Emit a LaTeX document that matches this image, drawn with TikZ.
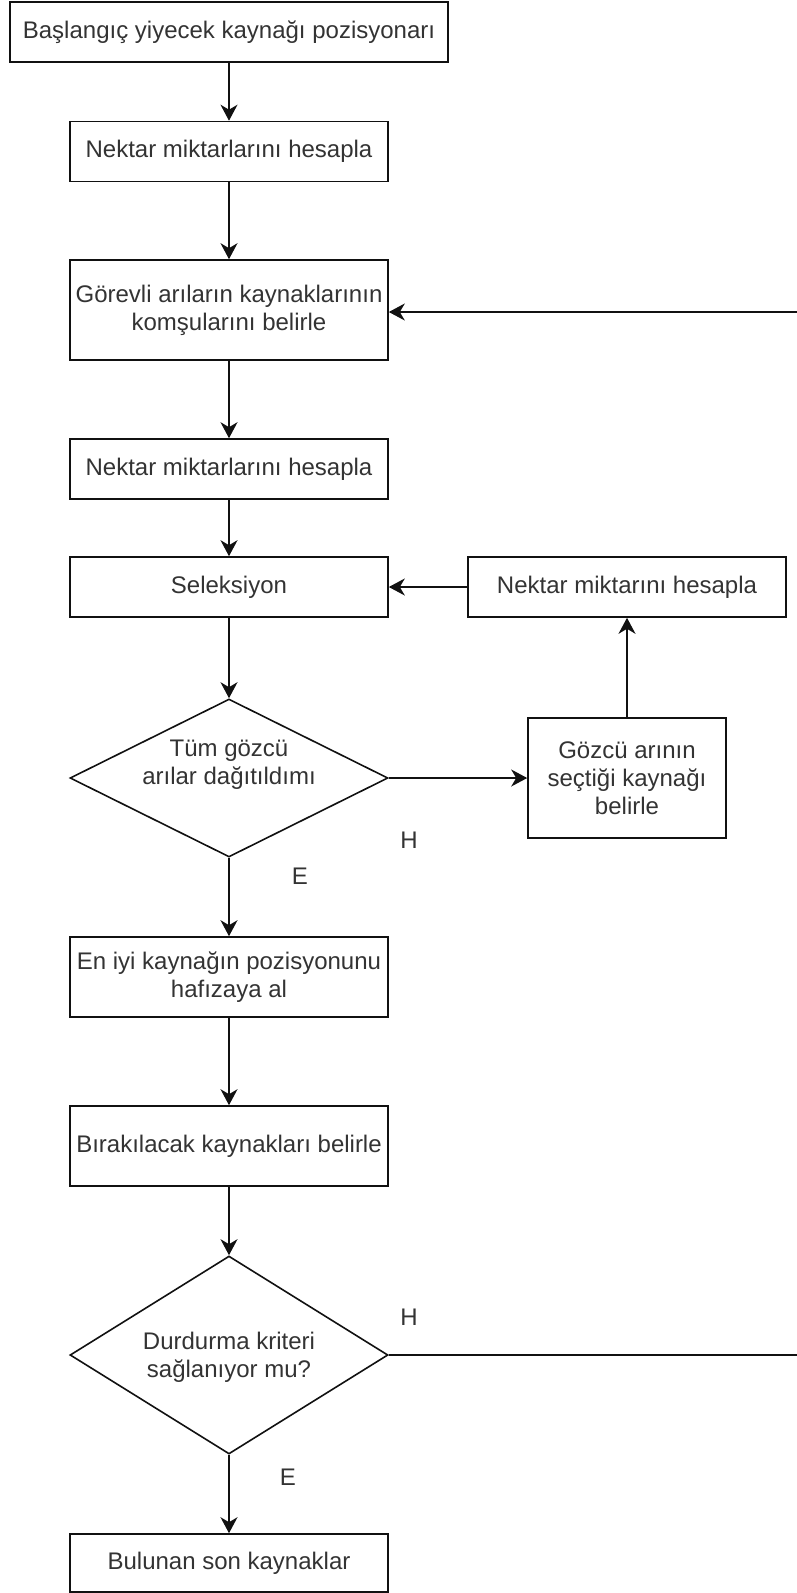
\documentclass[tikz,border=0pt]{standalone}
\usepackage{fontspec}
\setmainfont{Liberation Sans}
\usetikzlibrary{arrows.meta,shapes.geometric}
\definecolor{txt}{HTML}{333333}
\definecolor{ln}{HTML}{111111}
\tikzset{
  box/.style={draw=ln, line width=1.6pt, rectangle, inner sep=0pt, align=center,
    text=txt, font=\fontsize{24}{28}\selectfont},
  dia/.style={draw=ln, line width=1.6pt, diamond, inner sep=0pt},
  lbl/.style={inner sep=0pt, align=center, text=txt, font=\fontsize{24}{28}\selectfont},
  arr/.style={draw=ln, line width=1.6pt, -{Stealth[length=16pt,width=17pt,inset=5pt]}},
  ln/.style={draw=ln, line width=1.6pt}
}
\begin{document}
\begin{tikzpicture}[x=1pt,y=-1pt]
\useasboundingbox (0,0) rectangle (796,1593);
\node[box, minimum width=438pt, minimum height=60pt] (b1) at (229,32) {Başlangıç yiyecek kaynağı pozisyonarı};
\node[box, minimum width=318pt, minimum height=60pt] (b2) at (229,151.5) {Nektar miktarlarını hesapla};
\node[box, minimum width=318pt, minimum height=100pt] (b3) at (229,310) {Görevli arıların kaynaklarının\\komşularını belirle};
\node[box, minimum width=318pt, minimum height=60pt] (b4) at (229,469) {Nektar miktarlarını hesapla};
\node[box, minimum width=318pt, minimum height=60pt] (b5) at (229,587) {Seleksiyon};
\node[box, minimum width=318pt, minimum height=60pt] (rb) at (627,587) {Nektar miktarını hesapla};
\node[dia, minimum width=318pt, minimum height=158pt] (d1) at (229,778) {};
\node[lbl] (d1t) at (229,765) {Tüm gözcü\\arılar dağıtıldımı};
\node[box, minimum width=198pt, minimum height=120pt] (gz) at (627,778) {Gözcü arının\\seçtiği kaynağı\\belirle};
\node[box, minimum width=318pt, minimum height=80pt] (b6) at (229,977) {En iyi kaynağın pozisyonunu\\hafızaya al};
\node[box, minimum width=318pt, minimum height=80pt] (b7) at (229,1146) {Bırakılacak kaynakları belirle};
\node[dia, minimum width=318pt, minimum height=198pt] (d2) at (229,1355) {};
\node[lbl] (d2t) at (229,1357) {Durdurma kriteri\\sağlanıyor mu?};
\node[box, minimum width=318pt, minimum height=58pt] (b8) at (229,1563) {Bulunan son kaynaklar};
\node[lbl] (h1) at (409,840) {H};
\node[lbl] (e1) at (300,876) {E};
\node[lbl] (h2) at (409,1317) {H};
\node[lbl] (e2) at (288,1477) {E};
\coordinate (rtop) at (812,312);
\coordinate (rbot) at (812,1355);
\draw[arr] (b1) -- (b2);
\draw[arr] (b2) -- (b3);
\draw[arr] (b3) -- (b4);
\draw[arr] (b4) -- (b5);
\draw[arr] (b5) -- (d1);
\draw[arr] (d1.east) -- (gz.west);
\draw[arr] (gz) -- (rb);
\draw[arr] (rb) -- (b5);
\draw[arr] (d1) -- (b6);
\draw[arr] (b6) -- (b7);
\draw[arr] (b7) -- (d2);
\draw[arr] (d2) -- (b8);
\draw[ln] (d2.east) -- (rbot) -- (rtop);
\draw[arr] (rtop) -- (b3.east |- rtop);
\end{tikzpicture}
\end{document}
